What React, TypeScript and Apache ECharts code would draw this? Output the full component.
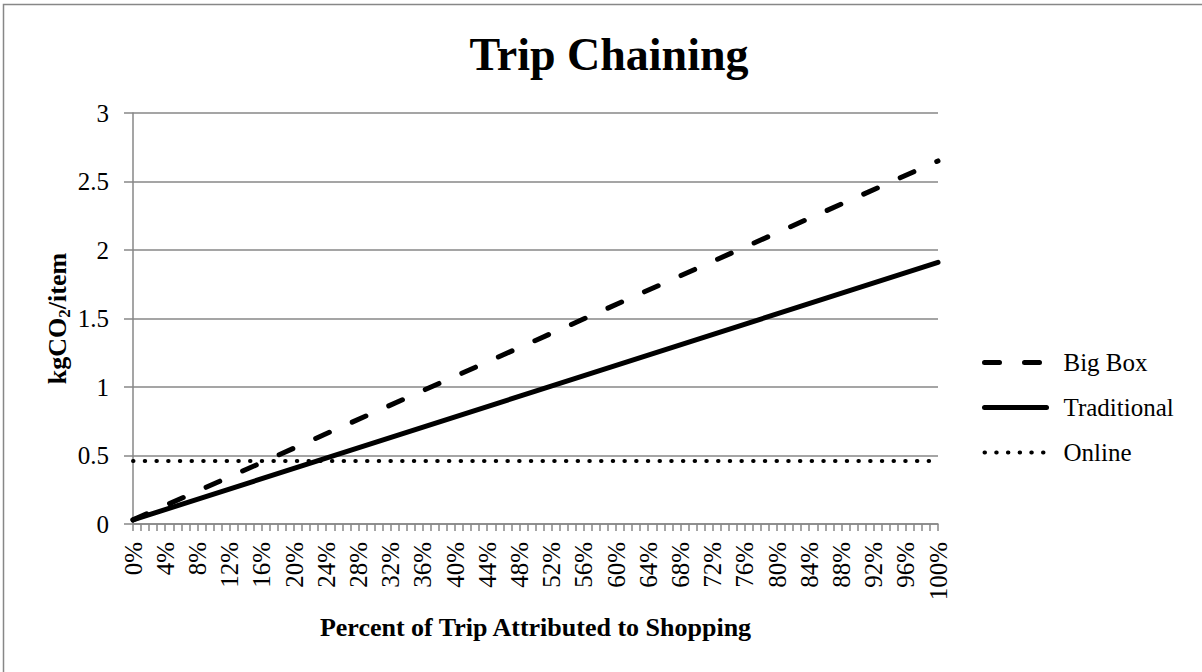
import React, { useEffect, useRef } from "react";
import * as echarts from "echarts";

// ---- data ----
const categories = [
  "0%", "1%", "2%", "3%", "4%", "5%", "6%", "7%", "8%", "9%",
  "10%", "11%", "12%", "13%", "14%", "15%", "16%", "17%", "18%", "19%",
  "20%", "21%", "22%", "23%", "24%", "25%", "26%", "27%", "28%", "29%",
  "30%", "31%", "32%", "33%", "34%", "35%", "36%", "37%", "38%", "39%",
  "40%", "41%", "42%", "43%", "44%", "45%", "46%", "47%", "48%", "49%",
  "50%", "51%", "52%", "53%", "54%", "55%", "56%", "57%", "58%", "59%",
  "60%", "61%", "62%", "63%", "64%", "65%", "66%", "67%", "68%", "69%",
  "70%", "71%", "72%", "73%", "74%", "75%", "76%", "77%", "78%", "79%",
  "80%", "81%", "82%", "83%", "84%", "85%", "86%", "87%", "88%", "89%",
  "90%", "91%", "92%", "93%", "94%", "95%", "96%", "97%", "98%", "99%",
  "100%",
];
// category indices at which values were read
const readAt = [0, 50, 100];
const bigBox = [0.03, 1.34, 2.65];
const traditional = [0.03, 0.97, 1.91];
const online = [0.46, 0.46, 0.46];
const yTicks = { min: 0, max: 3, interval: 0.5 };

const title = "Trip Chaining";
const xTitle = "Percent of Trip Attributed to Shopping";
const seriesNames = ["Big Box", "Traditional", "Online"];

const FONT = '"Liberation Serif", "Times New Roman", serif';
const GRAY = "#878787";

export default function App() {
  const ref = useRef<HTMLDivElement>(null);

  useEffect(() => {
    if (!ref.current) return;
    const chart = echarts.init(ref.current, undefined, { renderer: "svg" });
    const pts = (vals: number[]) => readAt.map((c, i) => [c, vals[i]]);

    chart.setOption({
      animation: false,
      backgroundColor: "#ffffff",
      textStyle: { fontFamily: FONT, color: "#000" },
      graphic: [
        {
          type: "rect",
          shape: { x: 3.5, y: 4.5, width: 1220, height: 690 },
          style: { fill: "none", stroke: GRAY, lineWidth: 1.5 },
          silent: true,
        },
      ],
      title: {
        text: title,
        left: 604,
        textAlign: "center",
        top: 26,
        textStyle: { fontFamily: FONT, fontSize: 46, fontWeight: "bold", color: "#000" },
      },
      legend: {
        orient: "vertical",
        left: 982,
        top: 350,
        padding: 0,
        itemWidth: 62,
        itemHeight: 14,
        itemGap: 20,
        data: seriesNames,
        itemStyle: { opacity: 0 },
        lineStyle: { width: "inherit", type: "inherit", cap: "inherit" },
        textStyle: {
          fontFamily: FONT,
          fontSize: 25,
          lineHeight: 25,
          color: "#000",
          padding: [0, 0, 0, 12],
        },
      },
      grid: { left: 133, top: 113, width: 805, height: 411, containLabel: false },
      xAxis: {
        type: "category",
        data: categories,
        boundaryGap: false,
        name: xTitle,
        nameLocation: "middle",
        nameGap: 90,
        nameMoveOverlap: false,
        nameTextStyle: { fontFamily: FONT, fontSize: 26, fontWeight: "bold", color: "#000" },
        axisLine: { show: true, lineStyle: { color: GRAY, width: 1.5 } },
        axisTick: { show: true, interval: 0, length: 7, lineStyle: { color: GRAY, width: 1.5 } },
        axisLabel: {
          interval: 3,
          rotate: 90,
          margin: 18,
          fontFamily: FONT,
          fontSize: 25,
          color: "#000",
        },
        splitLine: { show: false },
      },
      yAxis: {
        type: "value",
        min: yTicks.min,
        max: yTicks.max,
        interval: yTicks.interval,
        name: "{b|kgCO}{s|2}{b|/item}",
        nameLocation: "middle",
        nameRotate: 90,
        nameGap: 60,
        nameMoveOverlap: false,
        nameTextStyle: {
          rich: {
            b: { fontFamily: FONT, fontSize: 26, fontWeight: "bold", color: "#000", lineHeight: 32 },
            s: {
              fontFamily: FONT,
              fontSize: 17,
              fontWeight: "bold",
              color: "#000",
              lineHeight: 20,
              verticalAlign: "bottom",
            },
          },
        },
        axisLine: { show: true, lineStyle: { color: GRAY, width: 1.5 } },
        axisTick: { show: true, length: 9, lineStyle: { color: GRAY, width: 1.5 } },
        axisLabel: {
          margin: 24,
          fontFamily: FONT,
          fontSize: 25,
          color: "#000",
          formatter: (v: number) => String(v),
        },
        splitLine: { show: true, lineStyle: { color: GRAY, width: 1.5 } },
      },
      series: [
        {
          name: seriesNames[0],
          type: "line",
          data: pts(bigBox),
          symbol: "none",
          lineStyle: { color: "#000", width: 5, type: [15, 25], cap: "round" },
          itemStyle: { color: "#000" },
        },
        {
          name: seriesNames[1],
          type: "line",
          data: pts(traditional),
          symbol: "none",
          lineStyle: { color: "#000", width: 5, type: "solid", cap: "round" },
          itemStyle: { color: "#000" },
        },
        {
          name: seriesNames[2],
          type: "line",
          data: pts(online),
          symbol: "none",
          lineStyle: { color: "#000", width: 4, type: [0.5, 11.2], cap: "round" },
          itemStyle: { color: "#000" },
        },
      ],
    });

    return () => chart.dispose();
  }, []);

  return (
    <div
      ref={ref}
      style={{ position: "absolute", left: 0, top: 0, width: 1202, height: 672, background: "#fff" }}
    />
  );
}
